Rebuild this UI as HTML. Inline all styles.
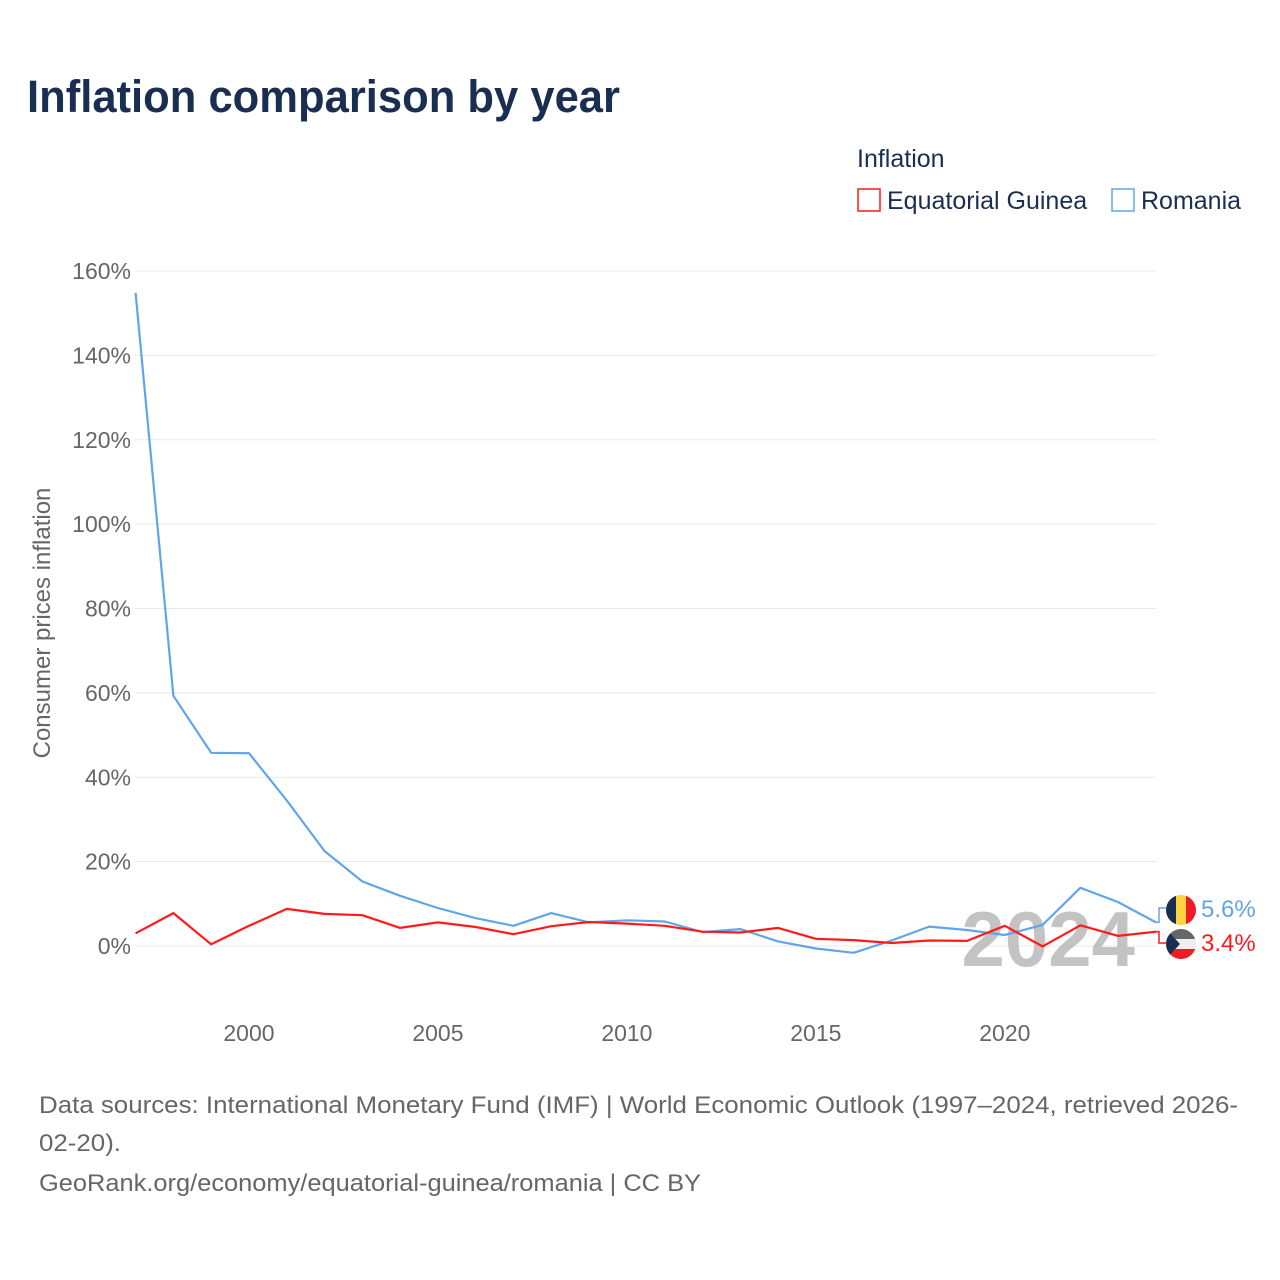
<!DOCTYPE html>
<html><head><meta charset="utf-8">
<style>
body{margin:0;background:#fff;font-family:"Liberation Sans",sans-serif;}
#wrap{position:relative;width:1280px;height:1280px;overflow:hidden}
</style></head>
<body>
<div id="wrap">
<svg id="chart" width="1280" height="1280"></svg>
</div>
<script>
const years=[1997,1998,1999,2000,2001,2002,2003,2004,2005,2006,2007,2008,2009,2010,2011,2012,2013,2014,2015,2016,2017,2018,2019,2020,2021,2022,2023,2024];
const romania=[154.8,59.3,45.8,45.7,34.5,22.5,15.3,11.9,9.0,6.6,4.8,7.8,5.6,6.1,5.8,3.3,4.0,1.1,-0.6,-1.6,1.3,4.6,3.8,2.6,5.0,13.8,10.4,5.6];
const eqGuinea=[3.0,7.8,0.4,4.8,8.8,7.6,7.3,4.3,5.6,4.5,2.8,4.7,5.7,5.3,4.8,3.4,3.2,4.3,1.7,1.4,0.7,1.3,1.2,4.8,-0.1,4.9,2.4,3.4];
const yTicks=[0,20,40,60,80,100,120,140,160];
const xTicks=[2000,2005,2010,2015,2020];

const NS="http://www.w3.org/2000/svg";
const svg=document.getElementById('chart');
const X=y=>135.6+(y-1997)*(1156-135.6)/27;
const Y=v=>946-v*(675/160);
function el(t,a,txt){const e=document.createElementNS(NS,t);for(const k in a)e.setAttribute(k,a[k]);if(txt!==undefined)e.textContent=txt;svg.appendChild(e);return e;}

let e;
e=el('text',{x:27,y:112,'font-size':45,'font-weight':'bold',fill:'#1a2e52',textLength:593,lengthAdjust:'spacingAndGlyphs'},'Inflation comparison by year');


e=el('text',{x:857,y:167,'font-size':25,fill:'#1a2e52'},'Inflation');


e=el('rect',{x:858,y:189,width:22,height:22,fill:'none',stroke:'#ff1a1a','stroke-width':1.5});


e=el('text',{x:887,y:209,'font-size':25,fill:'#1a2e52'},'Equatorial Guinea');


e=el('rect',{x:1112,y:189,width:22,height:22,fill:'none',stroke:'#60a5e8','stroke-width':1.5});


e=el('text',{x:1141,y:209,'font-size':25,fill:'#1a2e52'},'Romania');



yTicks.forEach(v=>{
  e=el('line',{x1:135,x2:1156,y1:Y(v),y2:Y(v),stroke:'#e8e8e8','stroke-width':1});
  
  
  e=el('text',{x:131,y:Y(v)+8,'font-size':23,fill:'#666','text-anchor':'end'},v+'%');
  
  
});
xTicks.forEach(v=>{
  e=el('text',{x:X(v),y:1041,'font-size':23,fill:'#666','text-anchor':'middle'},String(v));
  
  
});
e=el('text',{x:0,y:0,'font-size':24,fill:'#666','text-anchor':'middle',transform:'translate(50,623) rotate(-90)'},'Consumer prices inflation');



e=el('text',{x:1135,y:966,'font-size':78,'font-weight':'bold',fill:'#aaa','fill-opacity':0.7,'text-anchor':'end'},'2024');



function line(data,color,name){
  const d=data.map((v,i)=>(i?'L':'M')+X(years[i]).toFixed(1)+','+Y(v).toFixed(1)).join('');
  const p=el('path',{d:d,fill:'none',stroke:color,'stroke-width':2.2,'stroke-linejoin':'round'});
  
  
}
line(romania,'#60a5e8','series-romania');
line(eqGuinea,'#ff1a1a','series-equatorial-guinea');

const lr=romania[romania.length-1], le=eqGuinea[eqGuinea.length-1];
const xe=X(2024);
e=el('path',{d:`M${xe},${Y(lr)} L${xe+3},${Y(lr)} L${xe+3},${908} L${xe+10},908`,fill:'none',stroke:'#60a5e8','stroke-width':1.5});


e=el('path',{d:`M${xe},${Y(le)} L${xe+3},${Y(le)} L${xe+3},${943} L${xe+10},943`,fill:'none',stroke:'#ff1a1a','stroke-width':1.5});


const defs=el('defs',{});
const cp=document.createElementNS(NS,'clipPath');cp.setAttribute('id','c1');
const cc=document.createElementNS(NS,'circle');cc.setAttribute('cx',1181);cc.setAttribute('cy',910);cc.setAttribute('r',15);cp.appendChild(cc);defs.appendChild(cp);
const cp2=document.createElementNS(NS,'clipPath');cp2.setAttribute('id','c2');
const cc2=document.createElementNS(NS,'circle');cc2.setAttribute('cx',1181);cc2.setAttribute('cy',944);cc2.setAttribute('r',15);cp2.appendChild(cc2);defs.appendChild(cp2);
const g1=el('g',{'clip-path':'url(#c1)'});


[['#1a2e52',1166],['#fcd440',1176],['#ee1c25',1186]].forEach(([c,x])=>{const r=document.createElementNS(NS,'rect');r.setAttribute('x',x);r.setAttribute('y',895);r.setAttribute('width',10);r.setAttribute('height',30);r.setAttribute('fill',c);g1.appendChild(r);});
const g2=el('g',{'clip-path':'url(#c2)'});


[['#666',929],['#eee',939],['#ee1c25',949]].forEach(([c,y])=>{const r=document.createElementNS(NS,'rect');r.setAttribute('x',1166);r.setAttribute('y',y);r.setAttribute('width',30);r.setAttribute('height',10);r.setAttribute('fill',c);g2.appendChild(r);});
const tri=document.createElementNS(NS,'path');tri.setAttribute('d','M1166,929 L1180,944 L1166,959Z');tri.setAttribute('fill','#1a2e52');g2.appendChild(tri);
e=el('text',{x:1201,y:917,'font-size':24,fill:'#60a5e8'},lr.toFixed(1)+'%');


e=el('text',{x:1201,y:951,'font-size':24,fill:'#ff1a1a'},le.toFixed(1)+'%');



[['Data sources: International Monetary Fund (IMF) | World Economic Outlook (1997–2024, retrieved 2026-',1113,1199],['02-20).',1151,82],['GeoRank.org/economy/equatorial-guinea/romania | CC BY',1191,662]].forEach(([t,y,w],i)=>{
  e=el('text',{x:39,y:y,'font-size':24,fill:'#666',textLength:w,lengthAdjust:'spacingAndGlyphs'},t);
  
  
});
</script>
</body></html>
